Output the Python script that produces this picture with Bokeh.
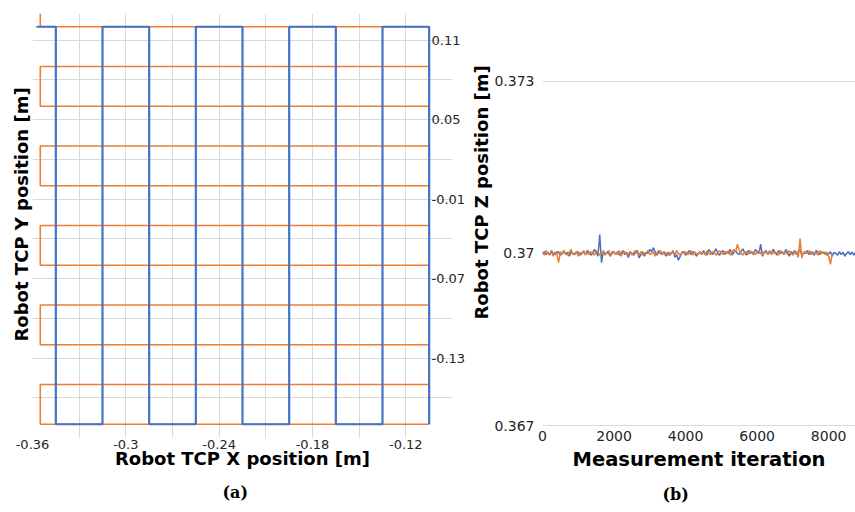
from bokeh.plotting import figure
from bokeh.layouts import row
from bokeh.models import (LinearAxis, FixedTicker, CustomJSTickFormatter, Range1d, Title)
from bokeh.embed import file_html
from bokeh.resources import INLINE

# ---------------- data: panel (a) ----------------
blue_x = [-0.3575, -0.345, -0.345, -0.315, -0.315, -0.285, -0.285, -0.255, -0.255,
          -0.225, -0.225, -0.195, -0.195, -0.165, -0.165, -0.135, -0.135, -0.105, -0.105]
blue_y = [0.12, 0.12, -0.18, -0.18, 0.12, 0.12, -0.18, -0.18, 0.12,
          0.12, -0.18, -0.18, 0.12, 0.12, -0.18, -0.18, 0.12, 0.12, -0.18]

orange_x = [-0.355, -0.355, -0.105, -0.105, -0.355, -0.355, -0.105, -0.105, -0.355,
            -0.355, -0.105, -0.105, -0.355, -0.355, -0.105, -0.105, -0.355, -0.355,
            -0.105, -0.105, -0.355, -0.355, -0.105]
orange_y = [0.13, 0.12, 0.12, 0.09, 0.09, 0.06, 0.06, 0.03, 0.03,
            0.0, 0.0, -0.03, -0.03, -0.06, -0.06, -0.09, -0.09, -0.12,
            -0.12, -0.15, -0.15, -0.18, -0.18]

a_x_labels = [-0.36, -0.3, -0.24, -0.18, -0.12]
a_x_grid = [-0.36, -0.33, -0.3, -0.27, -0.24, -0.21, -0.18, -0.15, -0.12, -0.09]
a_y_labels = [-0.13, -0.07, -0.01, 0.05, 0.11]
a_y_grid = [-0.19, -0.16, -0.13, -0.1, -0.07, -0.04, -0.01, 0.02, 0.05, 0.08, 0.11]

# ---------------- data: panel (b) ----------------
iter_blue = list(range(0, 8751, 50))
z_blue = [
    0.37000, 0.37003, 0.36998, 0.37002, 0.36997, 0.37005, 0.37000, 0.36998, 0.37003, 0.37002,
    0.36997, 0.37000, 0.37005, 0.36998, 0.37002, 0.36995, 0.37003, 0.37000, 0.36998, 0.37003,
    0.37002, 0.36997, 0.37000, 0.37003, 0.36998, 0.37005, 0.37002, 0.36997, 0.37000, 0.37007,
    0.37003, 0.36995, 0.37033, 0.36984, 0.37005, 0.36997, 0.37002, 0.37000, 0.36995, 0.37003,
    0.37002, 0.36998, 0.37003, 0.36997, 0.37000, 0.37005, 0.36998, 0.37002, 0.36993, 0.37003,
    0.37000, 0.36997, 0.37002, 0.37005, 0.36992, 0.36998, 0.37003, 0.36995, 0.37002, 0.37000,
    0.37007, 0.37003, 0.37010, 0.37002, 0.36997, 0.37005, 0.37000, 0.36998, 0.37003, 0.36995,
    0.37002, 0.36997, 0.37000, 0.37005, 0.36993, 0.36998, 0.36988, 0.36995, 0.37002, 0.37003,
    0.36997, 0.37000, 0.37005, 0.36998, 0.37003, 0.37002, 0.36995, 0.37000, 0.37003, 0.36998,
    0.37005, 0.37000, 0.36997, 0.37007, 0.37002, 0.36998, 0.37003, 0.37008, 0.37000, 0.36997,
    0.37002, 0.37005, 0.36998, 0.37003, 0.37000, 0.37007, 0.36997, 0.37002, 0.37005, 0.37000,
    0.36998, 0.37003, 0.37008, 0.37002, 0.36997, 0.37005, 0.37000, 0.37003, 0.36998, 0.37007,
    0.37003, 0.37000, 0.37016, 0.36995, 0.37002, 0.37005, 0.36998, 0.37003, 0.37000, 0.37007,
    0.37002, 0.36997, 0.37005, 0.37000, 0.37003, 0.36998, 0.37007, 0.37002, 0.36995, 0.37003,
    0.37000, 0.37005, 0.36998, 0.37003, 0.37007, 0.36997, 0.37002, 0.37000, 0.37005, 0.36998,
    0.37003, 0.37000, 0.36997, 0.37005, 0.37002, 0.36998, 0.37003, 0.37000, 0.37002, 0.36997,
    0.37000, 0.37003, 0.36995, 0.37002, 0.37000, 0.36997, 0.37003, 0.36998, 0.37002, 0.36995,
    0.37000, 0.37003, 0.36998, 0.37002, 0.36997, 0.37002]

iter_orange = list(range(0, 8101, 50))
z_orange = [
    0.37002, 0.36997, 0.37005, 0.37000, 0.36998, 0.37003, 0.36995, 0.37002, 0.37000, 0.36984,
    0.37003, 0.36998, 0.37005, 0.37000, 0.36997, 0.37002, 0.37007, 0.36998, 0.37000, 0.37003,
    0.36995, 0.37002, 0.37000, 0.37005, 0.36997, 0.37002, 0.36998, 0.37003, 0.37000, 0.36997,
    0.37005, 0.37002, 0.36997, 0.37000, 0.37003, 0.36998, 0.37002, 0.37005, 0.36997, 0.37000,
    0.37003, 0.36998, 0.37000, 0.37005, 0.36995, 0.37002, 0.37003, 0.36998, 0.37000, 0.37003,
    0.36997, 0.37002, 0.37005, 0.37000, 0.36998, 0.37003, 0.36997, 0.37000, 0.37002, 0.37005,
    0.36998, 0.37000, 0.37003, 0.36995, 0.37002, 0.37000, 0.37005, 0.36998, 0.37003, 0.37000,
    0.36997, 0.37002, 0.37000, 0.37003, 0.36998, 0.37005, 0.37000, 0.36997, 0.37002, 0.37000,
    0.37003, 0.36998, 0.37000, 0.37005, 0.36997, 0.37002, 0.37000, 0.36998, 0.37003, 0.37000,
    0.37002, 0.36997, 0.37005, 0.37000, 0.36998, 0.37003, 0.37002, 0.36997, 0.37000, 0.37005,
    0.37002, 0.36998, 0.37003, 0.37000, 0.37005, 0.36997, 0.37002, 0.37007, 0.37003, 0.37016,
    0.37005, 0.37000, 0.36997, 0.37003, 0.37002, 0.36998, 0.37005, 0.37000, 0.37003, 0.36998,
    0.37002, 0.37005, 0.37000, 0.36997, 0.37003, 0.37002, 0.37000, 0.37005, 0.36998, 0.37003,
    0.37000, 0.37002, 0.36997, 0.37005, 0.37002, 0.37000, 0.37003, 0.36998, 0.37005, 0.37000,
    0.36997, 0.37002, 0.37003, 0.36993, 0.37026, 0.36992, 0.37002, 0.37003, 0.37000, 0.37005,
    0.36998, 0.37003, 0.37000, 0.37002, 0.36997, 0.37005, 0.37000, 0.37003, 0.36998, 0.37002,
    0.36995, 0.36981, 0.37000]

b_x_labels = [0, 2000, 4000, 6000, 8000]
b_y_labels = [0.367, 0.37, 0.373]

BLUE = "#4472C4"
ORANGE = "#ED7D31"
GRID = "#d9d9d9"
TXT = "#262626"
SANS = "DejaVu Sans"

fmt = CustomJSTickFormatter(code="return String(Number(tick.toFixed(4)));")


def style_title(axis, text, size, standoff):
    axis.axis_label = text
    axis.axis_label_text_font = SANS
    axis.axis_label_text_font_style = "bold"
    axis.axis_label_text_font_size = size
    axis.axis_label_text_color = "black"
    axis.axis_label_standoff = standoff


def style_ticks(axis, size, standoff):
    axis.major_tick_line_color = None
    axis.minor_tick_line_color = None
    axis.major_tick_out = 0
    axis.major_tick_in = 0
    axis.minor_tick_out = 0
    axis.minor_tick_in = 0
    axis.major_label_standoff = standoff
    axis.major_label_text_font_size = size
    axis.major_label_text_color = TXT
    axis.major_label_text_font = SANS


def side_title(text, size, offset, standoff):
    return Title(text=text, align="left", offset=offset, text_font=SANS,
                 text_font_size=size, text_font_style="bold", text_color="black",
                 standoff=standoff)


def caption(text, offset, standoff):
    return Title(text=text, align="left", offset=offset, text_font="DejaVu Serif",
                 text_font_size="16px", text_font_style="bold", text_color="black",
                 standoff=standoff)


# ---------------- panel (a) ----------------
p1 = figure(width=468, height=512, output_backend="svg", toolbar_location=None,
            x_range=Range1d(-0.36, -0.09), y_range=Range1d(-0.19, 0.13),
            min_border_left=32, min_border_right=13, min_border_top=13, min_border_bottom=74)
p1.outline_line_color = None
p1.line(orange_x, orange_y, line_color=ORANGE, line_width=1.6)
p1.line(blue_x, blue_y, line_color=BLUE, line_width=2.2)

p1.xaxis.ticker = FixedTicker(ticks=a_x_labels)
p1.xaxis.formatter = fmt
p1.xaxis.axis_line_color = None
style_ticks(p1.xaxis[0], "13px", 2)
style_title(p1.xaxis[0], "Robot TCP X position [m]", "18px", -4)

p1.yaxis.visible = False
p1.add_layout(side_title("Robot TCP Y position [m]", "18px", 96, 2), "left")

p1.xgrid.ticker = FixedTicker(ticks=a_x_grid)
p1.ygrid.ticker = FixedTicker(ticks=a_y_grid)
p1.xgrid.grid_line_color = GRID
p1.ygrid.grid_line_color = GRID

yr = LinearAxis(ticker=FixedTicker(ticks=a_y_labels), formatter=fmt, axis_line_color=None)
style_ticks(yr, "13px", -21)
p1.add_layout(yr, "right")

p1.add_layout(caption("(a)", 190, 18), "below")

# ---------------- panel (b) ----------------
p2 = figure(width=387, height=512, output_backend="svg", toolbar_location=None,
            x_range=Range1d(0, 8750), y_range=Range1d(0.366792, 0.374181),
            min_border_left=69, min_border_right=0, min_border_top=13, min_border_bottom=74)
p2.outline_line_color = None
p2.line(iter_blue, z_blue, line_color=BLUE, line_width=1.5)
p2.line(iter_orange, z_orange, line_color=ORANGE, line_width=1.5)

p2.xaxis.ticker = FixedTicker(ticks=b_x_labels)
p2.xaxis.axis_line_color = None
style_ticks(p2.xaxis[0], "14px", -7)
style_title(p2.xaxis[0], "Measurement iteration", "19.5px", 4)

p2.yaxis.ticker = FixedTicker(ticks=b_y_labels)
p2.yaxis.formatter = fmt
p2.yaxis.axis_line_color = None
style_ticks(p2.yaxis[0], "14px", 8)
p2.add_layout(side_title("Robot TCP Z position [m]", "18px", 118, 0), "left")

p2.xgrid.grid_line_color = None
p2.ygrid.grid_line_color = GRID

p2.add_layout(caption("(b)", 120, 18), "below")

layout = row(p1, p2)
open("out.html", "w").write(file_html(layout, INLINE))
